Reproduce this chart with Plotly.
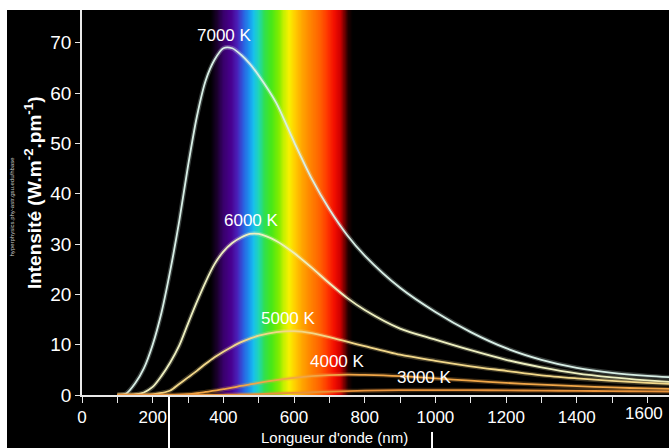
import numpy as np
import plotly.graph_objects as go

# ---------------- data ----------------
WAVELENGTH_NM = [100, 125, 150, 175, 200, 225, 250, 275, 300, 325, 350, 375, 400, 425, 450,
                 475, 500, 550, 600, 650, 700, 750, 800, 900, 1000, 1100, 1200, 1300, 1400,
                 1500, 1600, 1700]

I_7000K = [0, 0.3, 2.3, 5.3, 10.0, 16.4, 24.8, 34.5, 45.5, 55.3, 62.5, 66.6, 68.9, 68.9, 67.6,
           65.8, 63.5, 58.0, 50.3, 43.0, 36.9, 31.8, 27.7, 21.3, 16.5, 12.5, 9.3, 7.0, 5.4,
           4.4, 3.8, 3.4]
I_6000K = [0, 0, 0.1, 0.5, 1.6, 3.8, 6.5, 9.8, 14.2, 18.5, 22.5, 26.0, 28.5, 30.2, 31.3,
           32.0, 32.0, 30.6, 28.2, 25.3, 22.2, 19.3, 16.9, 13.2, 11.0, 8.9, 7.0, 5.5, 4.3,
           3.5, 2.9, 2.4]
I_5000K = [0, 0, 0, 0, 0.1, 0.4, 0.9, 2.2, 3.5, 4.8, 6.2, 7.5, 8.6, 9.6, 10.5,
           11.2, 11.8, 12.5, 12.7, 12.3, 11.5, 10.6, 9.7, 8.0, 6.8, 5.7, 4.8, 3.9, 3.3,
           2.8, 2.4, 2.1]
I_4000K = [0, 0, 0, 0, 0, 0, 0, 0.05, 0.15, 0.35, 0.6, 0.85, 1.15, 1.45, 1.8,
           2.1, 2.4, 2.95, 3.4, 3.75, 3.95, 4.05, 4.0, 3.75, 3.3, 2.85, 2.4, 2.05, 1.75,
           1.5, 1.3, 1.15]
I_3000K = [0, 0, 0, 0, 0, 0, 0, 0, 0, 0, 0, 0.02, 0.04, 0.07, 0.1,
           0.14, 0.19, 0.3, 0.42, 0.55, 0.67, 0.77, 0.85, 0.95, 0.98, 0.96, 0.92, 0.87, 0.82,
           0.77, 0.72, 0.68]

CURVE_LABELS = ["7000 K", "6000 K", "5000 K", "4000 K", "3000 K"]
CURVES = [I_7000K, I_6000K, I_5000K, I_4000K, I_3000K]
LABEL_NM = [404, 479, 583, 724, 970]

X_TICKS = [0, 200, 400, 600, 800, 1000, 1200, 1400, 1600]
X_TICK_LABELS = ["0", "200", "400", "600", "800", "1000", "1200", "1400", "1600"]
Y_TICKS = [0, 10, 20, 30, 40, 50, 60, 70]

# visible spectrum band (wavelength -> colour)
SPECTRUM_NM = [362, 382, 398, 420, 438, 455, 474, 484, 500, 515, 535, 555, 570, 585, 600,
               620, 645, 673, 693, 712, 730, 740, 752, 765]
SPECTRUM_COLORS = ["#000000", "#1c0030", "#38006a", "#48008f", "#4a20b8", "#2c5ee0", "#1a9af0",
                   "#18c0ee", "#20d8b0", "#30e050", "#48e818", "#80ec00", "#c8f000", "#f8f000",
                   "#ffd000", "#ffa800", "#ff8400", "#ff6000", "#ff3800", "#f41000", "#d00000",
                   "#800000", "#200000", "#000000"]

# ---------------- styles ----------------
LINE_COLORS = ["#d8efe6", "#eef0c0", "#f2d88a", "#f0a648", "#e8923a"]
XTICK_FONT = dict(family="Liberation Sans, Arial", size=17, color="white")
YTICK_FONT = dict(family="Liberation Sans, Arial", size=19, color="white")

fig = go.Figure()

lo, hi = SPECTRUM_NM[0], SPECTRUM_NM[-1]
cscale = [[(w - lo) / (hi - lo), c] for w, c in zip(SPECTRUM_NM, SPECTRUM_COLORS)]
spec_x = np.linspace(lo, hi, 200)
fig.add_trace(go.Heatmap(
    x=spec_x, y=[-5, 90], z=[spec_x, spec_x], colorscale=cscale, zmin=lo, zmax=hi,
    showscale=False, zsmooth="best", hoverinfo="skip"))

for name, vals, col in zip(CURVE_LABELS, CURVES, LINE_COLORS):
    fig.add_trace(go.Scatter(x=WAVELENGTH_NM, y=vals, mode="lines",
                             line=dict(color=col, width=4.5, shape="spline", smoothing=0.8),
                             opacity=0.25, hoverinfo="skip", showlegend=False))
    fig.add_trace(go.Scatter(x=WAVELENGTH_NM, y=vals, mode="lines", name=name,
                             line=dict(color=col, width=1.8, shape="spline", smoothing=0.8),
                             showlegend=False))

for name, vals, lx in zip(CURVE_LABELS, CURVES, LABEL_NM):
    fig.add_annotation(x=lx, y=max(vals), text=name, showarrow=False, yshift=13,
                       font=dict(family="Liberation Sans, Arial", size=17, color="white"))

# last x tick label drawn as an annotation nudged left so it is not clipped at the edge
fig.add_annotation(x=X_TICKS[-1], y=0, yref="paper", text=X_TICK_LABELS[-1], showarrow=False,
                   xanchor="center", yanchor="top", xshift=-3, yshift=-7,
                   font=XTICK_FONT)

# axis titles and watermark
fig.add_annotation(xref="paper", yref="paper", x=-0.0835, y=0.527, textangle=-90,
                   xanchor="center", yanchor="middle",
                   text="<b>Intensité (W.m<sup>-2</sup>.pm<sup>-1</sup>)</b>", showarrow=False,
                   font=dict(family="Liberation Sans, Arial", size=19, color="white"))
fig.add_annotation(xref="paper", yref="paper", x=0.431, y=-0.111,
                   xanchor="center", yanchor="middle",
                   text="Longueur d'onde (nm)", showarrow=False,
                   font=dict(family="Liberation Sans, Arial", size=15, color="white"))
fig.add_annotation(xref="paper", yref="paper", x=-0.119, y=0.49, textangle=-90,
                   xanchor="center", yanchor="middle",
                   text="hyperphysics.phy-astr.gsu.edu/hbase", showarrow=False,
                   font=dict(family="Liberation Sans, Arial", size=6, color="#cccccc"))

# frame: white strips at top and left, stray white lines at the bottom
PW, PH = 587.0, 385.0  # plot-area size in px
fig.add_shape(type="rect", xref="paper", yref="paper", x0=-0.2, x1=1.05, y0=1.0, y1=1.0 + 11 / PH,
              fillcolor="white", line_width=0, layer="above")
fig.add_shape(type="rect", xref="paper", yref="paper", x0=-83 / PW, x1=-75 / PW, y0=-0.2, y1=1.05,
              fillcolor="white", line_width=0, layer="above")
fig.add_shape(type="line", xref="paper", yref="paper", x0=0.1482, x1=0.1482, y0=-0.004, y1=-0.15,
              line=dict(color="white", width=2))
fig.add_shape(type="line", xref="paper", yref="paper", x0=0.5963, x1=0.5963, y0=-0.096, y1=-0.15,
              line=dict(color="white", width=2))

fig.update_xaxes(range=[0, 1661], tickvals=X_TICKS, ticktext=X_TICK_LABELS[:-1] + [""],
                 ticks="outside", ticklen=6, tickwidth=1.3,
                 tickcolor="#e8e8e8", showline=True, linecolor="#e8e8e8", linewidth=1.5,
                 showgrid=False, zeroline=False, tickfont=XTICK_FONT, ticklabeloverflow="allow",
                 minor=dict(dtick=100, tick0=0, ticks="outside", ticklen=6, tickcolor="#e8e8e8", tickwidth=1.3))
fig.update_yaxes(range=[0, 76.5], tickvals=Y_TICKS, ticks="outside", ticklen=5, tickwidth=1.3,
                 tickcolor="#e8e8e8", showline=True, linecolor="#e8e8e8", linewidth=1.5,
                 showgrid=False, zeroline=False, tickfont=YTICK_FONT)

fig.update_layout(width=669, height=448, autosize=False,
                  margin=dict(l=82, r=0, t=10, b=53),
                  paper_bgcolor="black", plot_bgcolor="black", showlegend=False)

fig.write_html("out.html", config={"displayModeBar": False},
               post_script="document.body.style.margin='0';document.body.style.overflow='hidden';")
